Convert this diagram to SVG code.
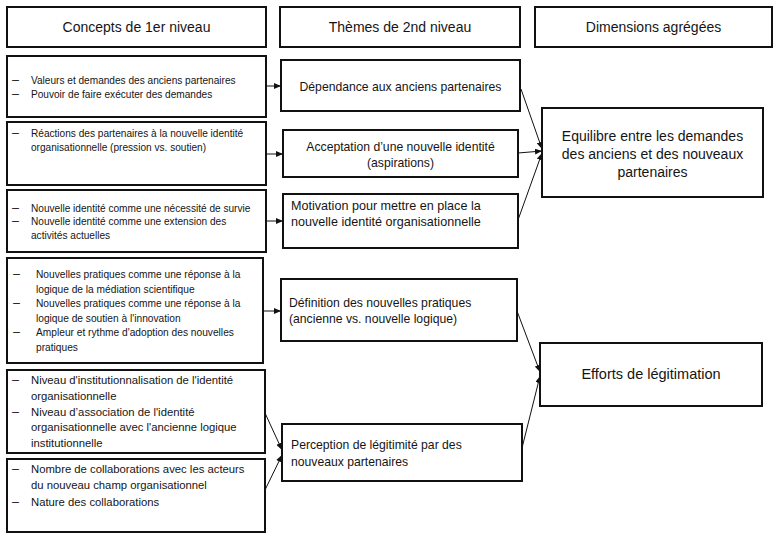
<svg xmlns="http://www.w3.org/2000/svg" width="780" height="538" viewBox="0 0 780 538">
<style>
.box{fill:#fff;stroke:#111;stroke-width:2}
text{font-family:"Liberation Sans",Arial,sans-serif;fill:#151515}
.h{font-size:14px;text-anchor:middle}
.s{font-size:10.1px}
.s4{font-size:10.2px}
.m{font-size:11.3px}
.t{font-size:12.2px}
.c{text-anchor:middle}
.r{font-size:14px;text-anchor:middle}
.d{font-size:12.5px}
.con{stroke:#111;stroke-width:1;fill:none;marker-end:url(#ah)}
</style>
<defs>
<marker id="ah" markerUnits="userSpaceOnUse" markerWidth="7" markerHeight="6" refX="7" refY="3" orient="auto">
<path d="M0,0 L7,3 L0,6 z" fill="#111"/>
</marker>
</defs>
<rect width="780" height="538" fill="#fff"/>

<g id="header-concepts"><rect class="box" x="7" y="7" width="259" height="40"/><text class="h" x="136.5" y="32">Concepts de 1er niveau</text></g>
<g id="header-themes"><rect class="box" x="280" y="7" width="240" height="40"/><text class="h" x="400" y="32">Thèmes de 2nd niveau</text></g>
<g id="header-dimensions"><rect class="box" x="535" y="7" width="237" height="40"/><text class="h" x="653.5" y="32">Dimensions agrégées</text></g>

<g id="c1"><rect class="box" x="7" y="56" width="259" height="61"/>
<text class="d" x="12" y="83.5">–</text><text class="s" x="31" y="83.5">Valeurs et demandes des anciens partenaires</text>
<text class="d" x="12" y="97.5">–</text><text class="s" x="31" y="97.5">Pouvoir de faire exécuter des demandes</text></g>

<g id="c2"><rect class="box" x="7" y="122" width="259" height="63"/>
<text class="d" x="12" y="137">–</text><text class="s" x="31" y="137">Réactions des partenaires à la nouvelle identité</text>
<text class="s" x="31" y="150.5">organisationnelle (pression vs. soutien)</text></g>

<g id="c3"><rect class="box" x="7" y="190" width="259" height="62"/>
<text class="d" x="12" y="212">–</text><text class="s" x="31" y="212">Nouvelle identité comme une nécessité de survie</text>
<text class="d" x="12" y="225">–</text><text class="s" x="31" y="225">Nouvelle identité comme une extension des</text>
<text class="s" x="31" y="238.5">activités actuelles</text></g>

<g id="c4"><rect class="box" x="7" y="258" width="256" height="105"/>
<text class="d" x="13" y="278">–</text><text class="s4" x="36" y="278">Nouvelles pratiques comme une réponse à la</text>
<text class="s4" x="36" y="292.5">logique de la médiation scientifique</text>
<text class="d" x="13" y="307">–</text><text class="s4" x="36" y="307">Nouvelles pratiques comme une réponse à la</text>
<text class="s4" x="36" y="321.5">logique de soutien à l'innovation</text>
<text class="d" x="13" y="336">–</text><text class="s4" x="36" y="336">Ampleur et rythme d'adoption des nouvelles</text>
<text class="s4" x="36" y="350.5">pratiques</text></g>

<g id="c5"><rect class="box" x="7" y="370" width="258" height="83"/>
<text class="d" x="12" y="384">–</text><text class="m" x="31" y="384">Niveau d'institutionnalisation de l'identité</text>
<text class="m" x="31" y="400">organisationnelle</text>
<text class="d" x="12" y="415.5">–</text><text class="m" x="31" y="415.5">Niveau d’association de l'identité</text>
<text class="m" x="31" y="431">organisationnelle avec l'ancienne logique</text>
<text class="m" x="31" y="446.5">institutionnelle</text></g>

<g id="c6"><rect class="box" x="7" y="459" width="258" height="73"/>
<text class="d" x="12" y="473">–</text><text class="m" x="31" y="473">Nombre de collaborations avec les acteurs</text>
<text class="m" x="31" y="489">du nouveau champ organisationnel</text>
<text class="d" x="12" y="505.5">–</text><text class="m" x="31" y="505.5">Nature des collaborations</text></g>

<g id="t1"><rect class="box" x="281" y="60" width="239" height="51"/>
<text class="t c" x="400.5" y="91">Dépendance aux anciens partenaires</text></g>
<g id="t2"><rect class="box" x="283" y="130" width="235" height="47"/>
<text class="t c" x="400.5" y="151">Acceptation d’une nouvelle identité</text>
<text class="t c" x="400.5" y="167">(aspirations)</text></g>
<g id="t3"><rect class="box" x="283" y="194" width="235" height="54"/>
<text class="t" x="291" y="210" style="font-size:12.6px">Motivation pour mettre en place la</text>
<text class="t" x="291" y="226" style="font-size:12.6px">nouvelle identité organisationnelle</text></g>
<g id="t4"><rect class="box" x="281" y="279" width="236" height="62"/>
<text class="t" x="289" y="307">Définition des nouvelles pratiques</text>
<text class="t" x="289" y="323">(ancienne vs. nouvelle logique)</text></g>
<g id="t5"><rect class="box" x="282" y="424" width="240" height="57"/>
<text class="t" x="291" y="449">Perception de légitimité par des</text>
<text class="t" x="291" y="465.5">nouveaux partenaires</text></g>

<g id="d1"><rect class="box" x="542" y="108" width="221" height="89"/>
<text class="r" x="652.5" y="141">Equilibre entre les demandes</text>
<text class="r" x="652.5" y="159">des anciens et des nouveaux</text>
<text class="r" x="652.5" y="177">partenaires</text></g>
<g id="d2"><rect class="box" x="540" y="343" width="222" height="63"/>
<text class="r" x="651" y="379" style="font-size:14.5px">Efforts de légitimation</text></g>

<g id="connectors">
<line class="con" x1="266" y1="86" x2="281" y2="86"/>
<line class="con" x1="266" y1="154" x2="283" y2="154"/>
<line class="con" x1="266" y1="221" x2="283" y2="221"/>
<line class="con" x1="263" y1="311" x2="281" y2="311"/>
<line class="con" x1="265" y1="413" x2="282" y2="450"/>
<line class="con" x1="265" y1="490" x2="282" y2="455"/>
<line class="con" x1="521" y1="89" x2="542" y2="149"/>
<line class="con" x1="518" y1="153" x2="542" y2="151"/>
<line class="con" x1="518" y1="220" x2="542" y2="153"/>
<line class="con" x1="517" y1="311" x2="540" y2="372"/>
<line class="con" x1="522" y1="448" x2="540" y2="376"/>
</g>
</svg>
